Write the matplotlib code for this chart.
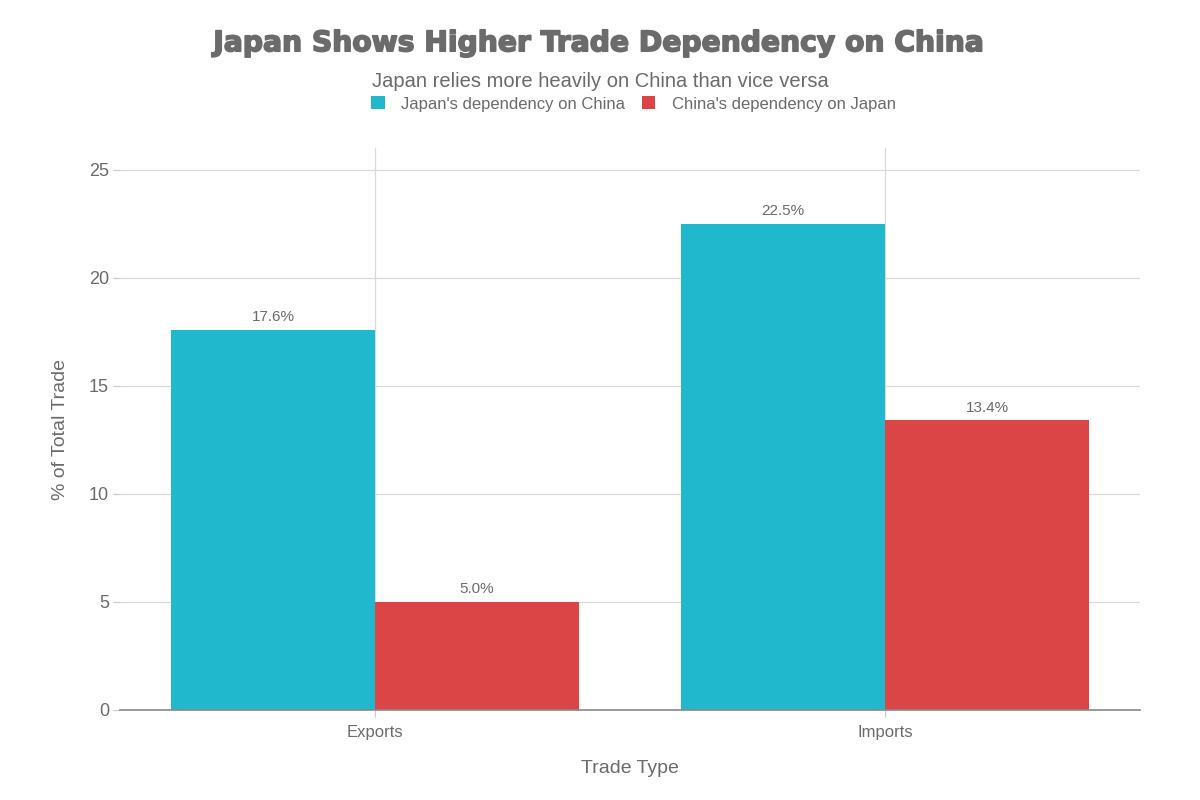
import matplotlib
matplotlib.use("Agg")
import matplotlib.pyplot as plt
import matplotlib.patheffects as pe
import numpy as np
from matplotlib.patches import Patch

categories = ["Exports", "Imports"]
series_names = ["Japan's dependency on China", "China's dependency on Japan"]
japan_on_china = [17.6, 22.5]
china_on_japan = [5.0, 13.4]
colors = ["#1FB8CD", "#DB4545"]

TXT = "#6b6b6b"
plt.rcParams['font.family'] = ['Liberation Sans', 'DejaVu Sans']

fig = plt.figure(figsize=(12, 8), dpi=100)
ax = fig.add_axes([0.1, 0.1125, 0.85, 0.7025])

x = np.arange(len(categories))
w = 0.4
b1 = ax.bar(x - w/2, japan_on_china, w, color=colors[0], label=series_names[0], zorder=3)
b2 = ax.bar(x + w/2, china_on_japan, w, color=colors[1], label=series_names[1], zorder=3)

for bars, vals in ((b1, japan_on_china), (b2, china_on_japan)):
    for r, v in zip(bars, vals):
        ax.annotate(f"{v:.1f}%", (r.get_x() + r.get_width()/2, v), xytext=(0, 4),
                    textcoords="offset points", ha="center", va="bottom",
                    fontsize=11, color=TXT)

ax.set_xlim(-0.5, 1.5)
ax.set_ylim(0, 26)
ax.set_yticks([0, 5, 10, 15, 20, 25])
ax.set_xticks(x)
ax.set_xticklabels(categories)
ax.grid(True, color="#d9d9d9", linewidth=0.9, zorder=0)
for s in ["top", "right", "left"]:
    ax.spines[s].set_visible(False)
ax.spines["bottom"].set_color("#888888")
ax.spines["bottom"].set_linewidth(1.2)
ax.spines["bottom"].set_zorder(4)
ax.tick_params(axis="y", colors="#cccccc", labelcolor=TXT, labelsize=13, length=5, width=0.9, pad=3)
ax.tick_params(axis="x", colors="#cccccc", labelcolor=TXT, labelsize=12, length=5, width=0.9, pad=6)
ax.set_xlabel("Trade Type", fontsize=14, color=TXT, labelpad=14)
ax.set_ylabel("% of Total Trade", fontsize=14, color=TXT, labelpad=14)

fig.text(0.5, 0.946, "Japan Shows Higher Trade Dependency on China", ha="center", va="center",
         fontsize=20.3, fontweight="bold", color=TXT, family=["DejaVu Sans"],
         path_effects=[pe.withStroke(linewidth=1.2, foreground=TXT)])
fig.text(0.5, 0.898, "Japan relies more heavily on China than vice versa", ha="center", va="center",
         fontsize=14.5, color=TXT)
handles = [Patch(facecolor=c, label=n) for c, n in zip(colors, series_names)]
fig.legend(handles=handles, loc="center", bbox_to_anchor=(0.528, 0.870), ncol=2, frameon=False,
           fontsize=12, labelcolor=TXT, handlelength=0.8, handleheight=0.8, handletextpad=1.0,
           columnspacing=1.0)

fig.savefig("out.png", dpi=100, facecolor="white")
